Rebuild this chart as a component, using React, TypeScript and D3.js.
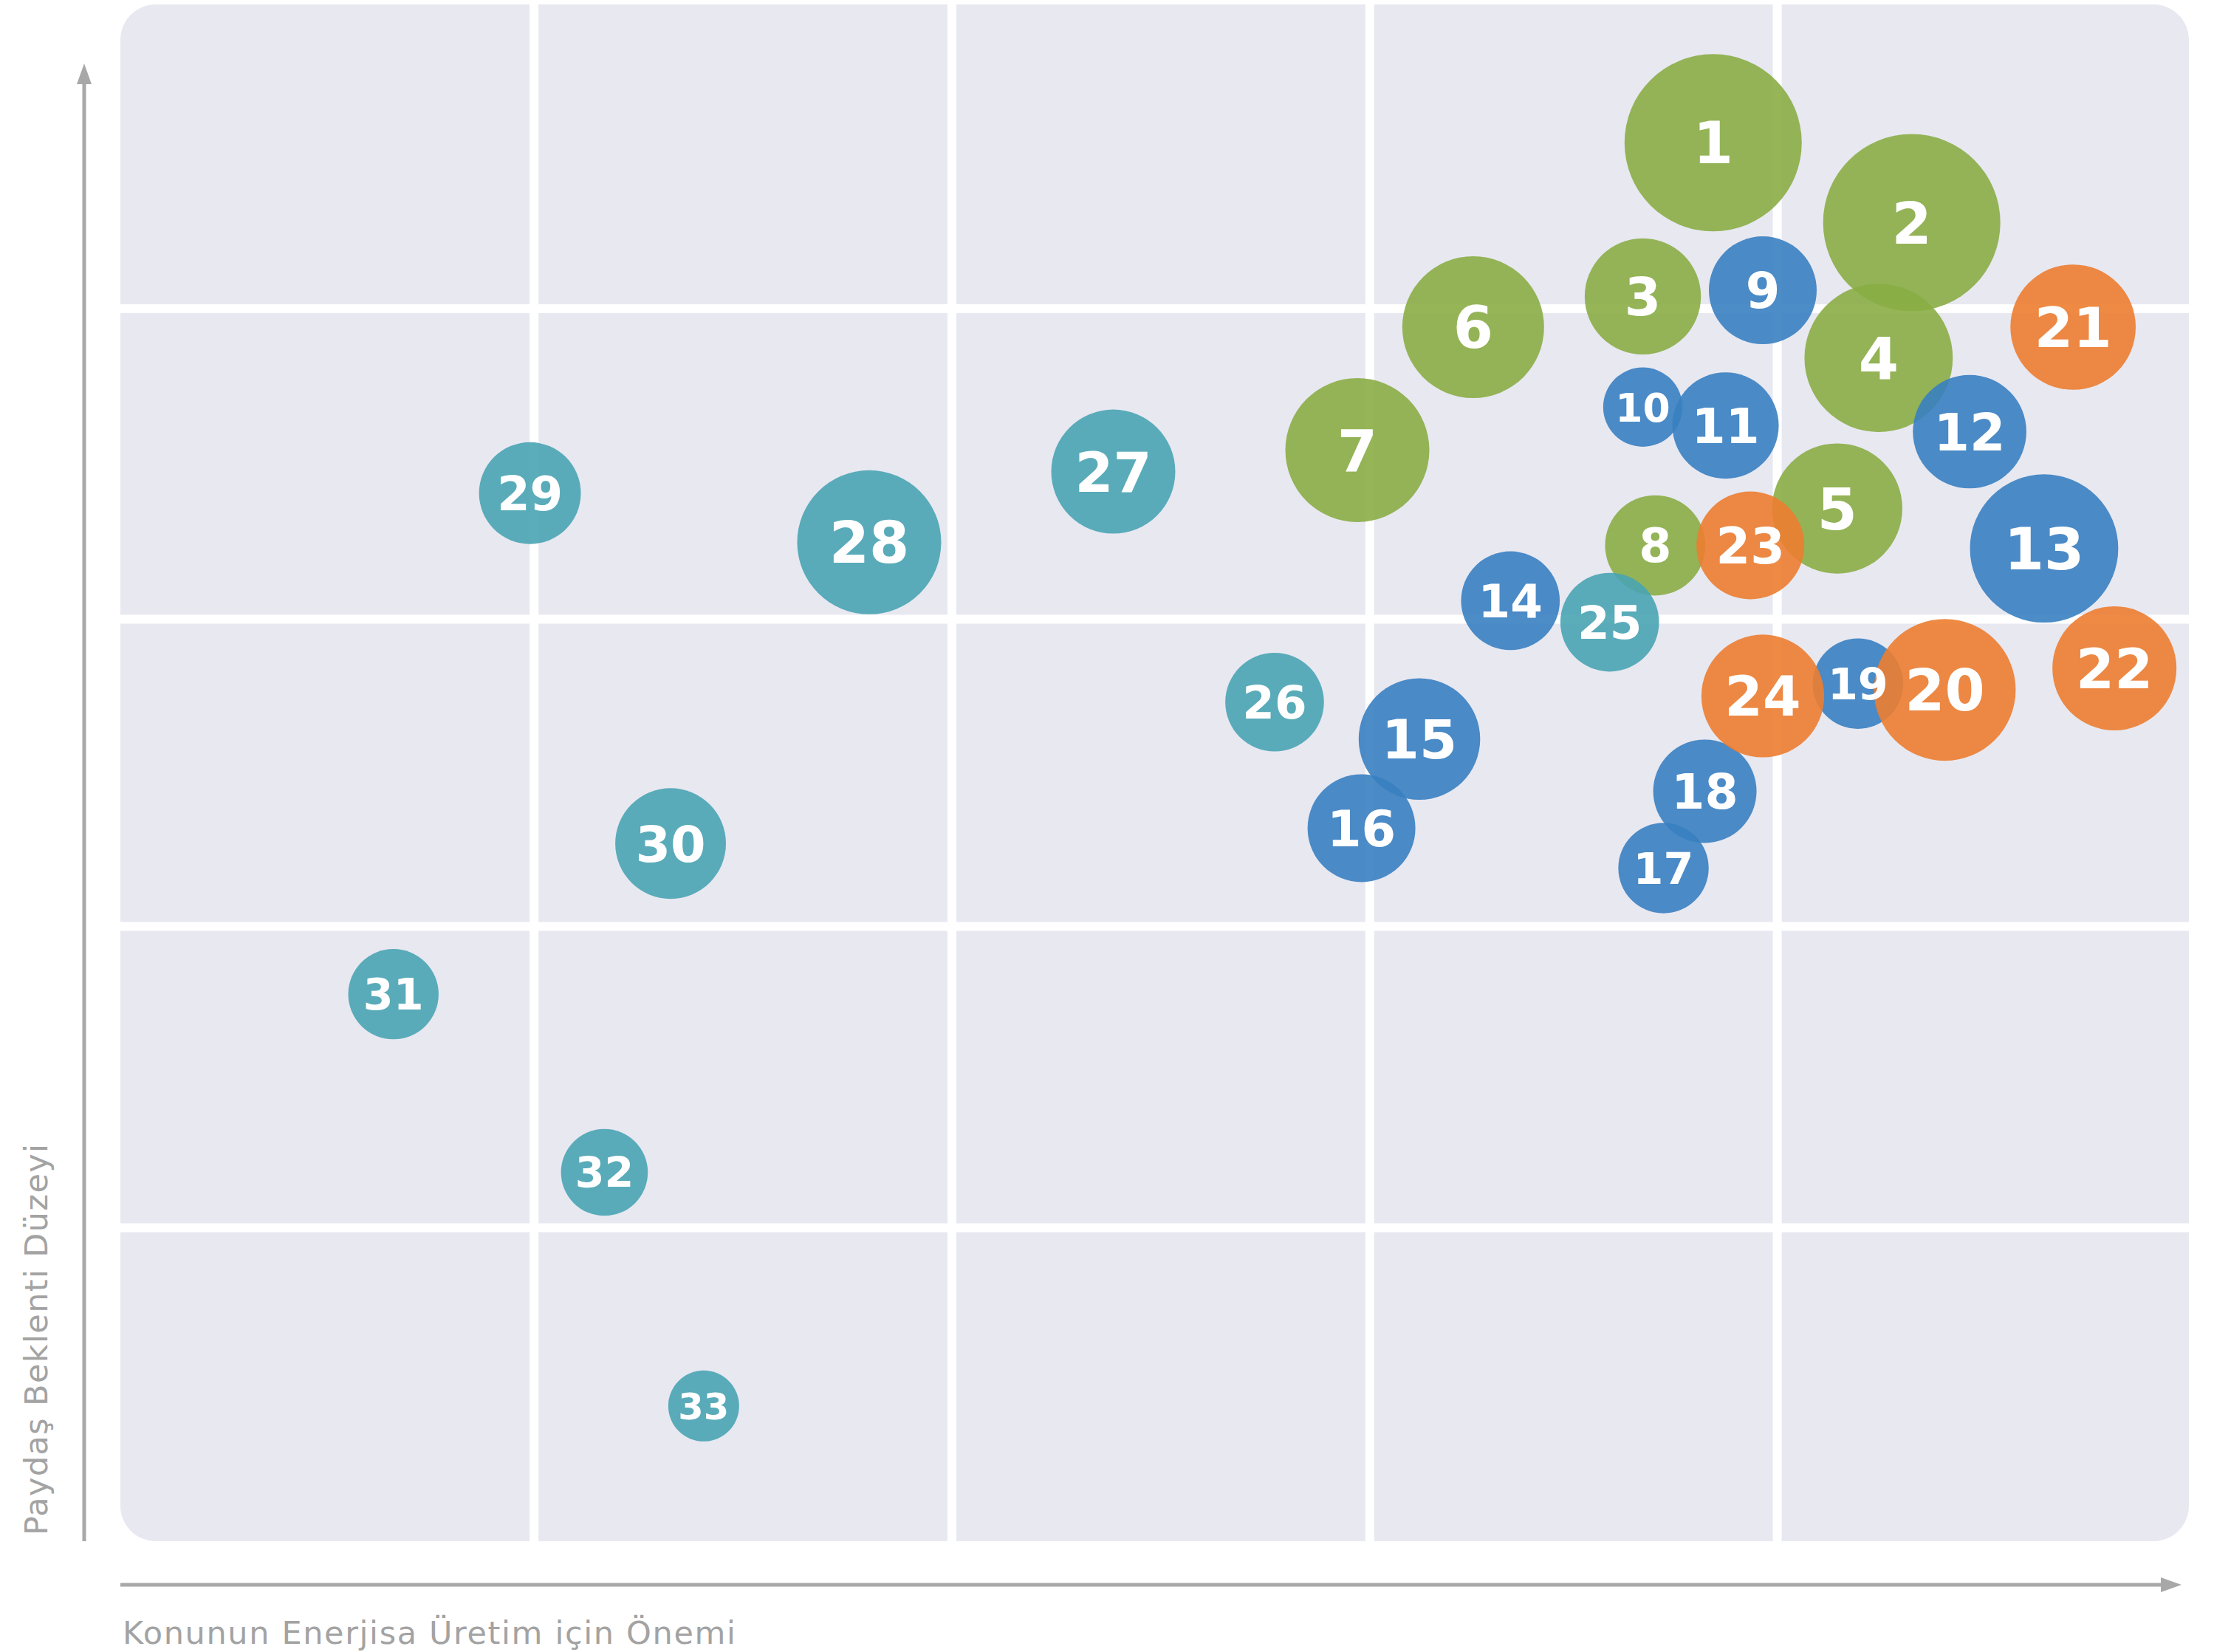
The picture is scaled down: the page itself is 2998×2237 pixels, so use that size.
import * as d3 from 'd3';
import React, { useEffect, useRef } from 'react';

// topic numbers and their scores (0-5 on both axes)
const topics = [
  1, 2, 3, 4, 5, 6, 7, 8, 9, 10, 11, 12, 13, 14, 15, 16, 17, 18, 19, 20, 21, 22, 23, 24, 25, 26, 27, 28, 29,
  30, 31, 32, 33,
];
const importance = [
  3.85, 4.33, 3.68, 4.25, 4.15, 3.27, 2.99, 3.71, 3.97, 3.68, 3.88, 4.47, 4.65, 3.36, 3.14, 3.0, 3.73, 3.83,
  4.2, 4.41, 4.72, 4.82, 3.94, 3.97, 3.6, 2.79, 2.4, 1.81, 0.99, 1.33, 0.66, 1.17, 1.41,
];
const expectation = [
  4.55, 4.29, 4.05, 3.85, 3.36, 3.95, 3.55, 3.24, 4.07, 3.69, 3.63, 3.61, 3.23, 3.06, 2.61, 2.32, 2.19, 2.44,
  2.79, 2.77, 3.95, 2.84, 3.24, 2.75, 2.99, 2.73, 3.48, 3.25, 3.41, 2.27, 1.78, 1.2, 0.44,
];
const weight = [
  100, 100, 43, 70, 54, 64, 66, 32, 37, 20, 36, 41, 70, 31, 47, 37, 26, 34, 26, 64, 50, 49, 37, 48, 31, 31, 49,
  66, 33, 39, 26, 24, 16,
];
const groups = [
  'green', 'green', 'green', 'green', 'green', 'green', 'green', 'green',
  'blue', 'blue', 'blue', 'blue', 'blue', 'blue', 'blue', 'blue', 'blue', 'blue', 'blue',
  'orange', 'orange', 'orange', 'orange', 'orange',
  'teal', 'teal', 'teal', 'teal', 'teal', 'teal', 'teal', 'teal', 'teal',
];
// grid divisions as drawn in the original (not perfectly even)
const xGrid = [1, 2.01, 3.02, 4.005];
const yGrid = [1.02, 2, 3, 4.01];

const xTitle = 'Konunun Enerjisa Üretim için Önemi';
const yTitle = 'Paydaş Beklenti Düzeyi';

const colors: Record<string, string> = {
  green: '#8aad45',
  blue: '#3880c1',
  orange: '#ec7d30',
  teal: '#49a4b2',
};

const App: React.FC = () => {
  const svgRef = useRef<SVGSVGElement | null>(null);

  useEffect(() => {
    if (!svgRef.current) return;

    const width = 2998;
    const height = 2237;
    const panel = { left: 163, top: 6, right: 2964, bottom: 2087 };
    const axisGrey = '#a8a8a8';

    const svg = d3.select(svgRef.current);
    svg.selectAll('*').remove();
    svg.attr('width', width).attr('height', height).attr('viewBox', `0 0 ${width} ${height}`);

    const x = d3.scaleLinear().domain([0, 5]).range([panel.left, panel.right]);
    const y = d3.scaleLinear().domain([0, 5]).range([panel.bottom, panel.top]);
    const r = d3.scaleSqrt().domain([0, 100]).range([0, 120]);

    // background panel
    svg
      .append('rect')
      .attr('x', panel.left)
      .attr('y', panel.top)
      .attr('width', panel.right - panel.left)
      .attr('height', panel.bottom - panel.top)
      .attr('rx', 48)
      .attr('fill', '#e8e8f1');

    // white grid
    const grid = svg.append('g').attr('stroke', '#ffffff').attr('stroke-width', 12);
    grid
      .selectAll('line.v')
      .data(xGrid)
      .enter()
      .append('line')
      .attr('class', 'v')
      .attr('x1', (d) => x(d))
      .attr('x2', (d) => x(d))
      .attr('y1', panel.top)
      .attr('y2', panel.bottom);
    grid
      .selectAll('line.h')
      .data(yGrid)
      .enter()
      .append('line')
      .attr('class', 'h')
      .attr('x1', panel.left)
      .attr('x2', panel.right)
      .attr('y1', (d) => y(d))
      .attr('y2', (d) => y(d));

    // axis arrows
    const axes = svg.append('g');
    axes
      .append('line')
      .attr('x1', panel.left)
      .attr('x2', 2930)
      .attr('y1', 2146)
      .attr('y2', 2146)
      .attr('stroke', axisGrey)
      .attr('stroke-width', 5);
    axes.append('path').attr('d', 'M2926,2136 L2954,2146 L2926,2156 Z').attr('fill', axisGrey);
    axes
      .append('line')
      .attr('x1', 114)
      .attr('x2', 114)
      .attr('y1', panel.bottom)
      .attr('y2', 110)
      .attr('stroke', axisGrey)
      .attr('stroke-width', 5);
    axes.append('path').attr('d', 'M104,114 L114,86 L124,114 Z').attr('fill', axisGrey);

    // axis titles
    svg
      .append('text')
      .attr('x', 166)
      .attr('y', 2226)
      .attr('font-family', '"DejaVu Sans", sans-serif')
      .attr('font-size', 43)
      .attr('fill', '#a3a3a3')
      .attr('textLength', 830)
      .attr('lengthAdjust', 'spacing')
      .text(xTitle);
    svg
      .append('text')
      .attr('transform', 'translate(64, 2079) rotate(-90)')
      .attr('font-family', '"DejaVu Sans", sans-serif')
      .attr('font-size', 43)
      .attr('fill', '#a3a3a3')
      .attr('textLength', 530)
      .attr('lengthAdjust', 'spacing')
      .text(yTitle);

    // bubbles
    const data = topics.map((id, i) => ({
      id,
      x: importance[i],
      y: expectation[i],
      w: weight[i],
      group: groups[i],
    }));

    const bubbles = svg.append('g');
    bubbles
      .selectAll('circle')
      .data(data)
      .enter()
      .append('circle')
      .attr('cx', (d) => x(d.x))
      .attr('cy', (d) => y(d.y))
      .attr('r', (d) => r(d.w))
      .attr('fill', (d) => colors[d.group])
      .attr('fill-opacity', 0.9);

    bubbles
      .selectAll('text')
      .data(data)
      .enter()
      .append('text')
      .attr('x', (d) => x(d.x))
      .attr('y', (d) => y(d.y))
      .attr('dy', '0.36em')
      .attr('text-anchor', 'middle')
      .attr('font-family', '"DejaVu Sans", sans-serif')
      .attr('font-weight', 700)
      .attr('font-size', (d) => Math.min(78, 16 + r(d.w) * 0.7))
      .attr('fill', '#ffffff')
      .text((d) => d.id);
  }, []);

  return (
    <svg ref={svgRef} style={{ position: 'absolute', left: 0, top: 0 }}>
      {/* drawn by d3 */}
    </svg>
  );
};

export default App;
